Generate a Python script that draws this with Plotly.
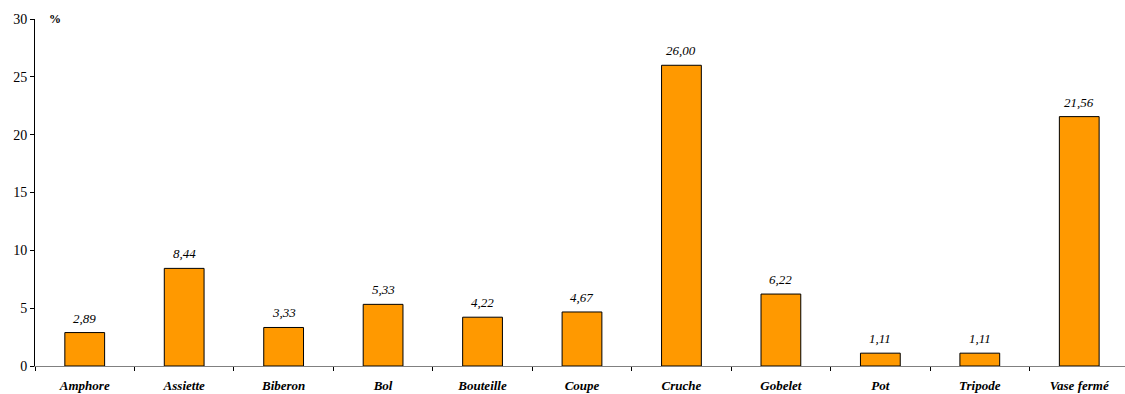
import plotly.graph_objects as go

categories = ["Amphore", "Assiette", "Biberon", "Bol", "Bouteille", "Coupe",
              "Cruche", "Gobelet", "Pot", "Tripode", "Vase fermé"]
values = [2.89, 8.44, 3.33, 5.33, 4.22, 4.67, 26.00, 6.22, 1.11, 1.11, 21.56]

serif = "Liberation Serif"

fig = go.Figure(go.Bar(
    x=categories, y=values,
    marker=dict(color="#FF9900", line=dict(color="black", width=1)),
    hoverinfo="x+y",
))

annotations = [dict(
    x=c, y=v, xref="x", yref="y", text=f"{v:.2f}".replace(".", ","),
    showarrow=False, yanchor="bottom", yshift=5,
    font=dict(family=serif, size=13, color="black", style="italic"),
) for c, v in zip(categories, values)]

annotations.append(dict(
    text="<b>%</b>", xref="paper", yref="paper", x=0.011, y=1.0,
    xanchor="left", yanchor="middle", showarrow=False,
    font=dict(family=serif, size=12, color="black"),
))

fig.update_layout(
    width=1125, height=394,
    margin=dict(l=35, r=0, t=19, b=28, autoexpand=False),
    paper_bgcolor="white", plot_bgcolor="white",
    template="simple_white",
    bargap=0.6,
    showlegend=False,
    font=dict(family=serif, size=13, color="black"),
    xaxis=dict(
        type="category",
        range=[-0.5, 10.46],
        automargin=False,
        showline=True, linecolor="#808080", linewidth=1,
        ticks="outside", ticklen=4, tickcolor="black", tickson="boundaries",
        showgrid=False,
        tickfont=dict(family=serif, size=13, color="black", weight="bold", style="italic"),
        ticklabelstandoff=7,
    ),
    yaxis=dict(
        range=[0, 30], dtick=5,
        automargin=False,
        showline=True, linecolor="black", linewidth=1,
        ticks="outside", ticklen=4, tickcolor="black",
        showgrid=False, zeroline=False,
        tickfont=dict(family=serif, size=14, color="black"),
    ),
    annotations=annotations,
)

fig.write_html(
    "out.html",
    config={"displayModeBar": False},
    post_script="document.body.style.margin='0';document.body.style.overflow='hidden';",
)
